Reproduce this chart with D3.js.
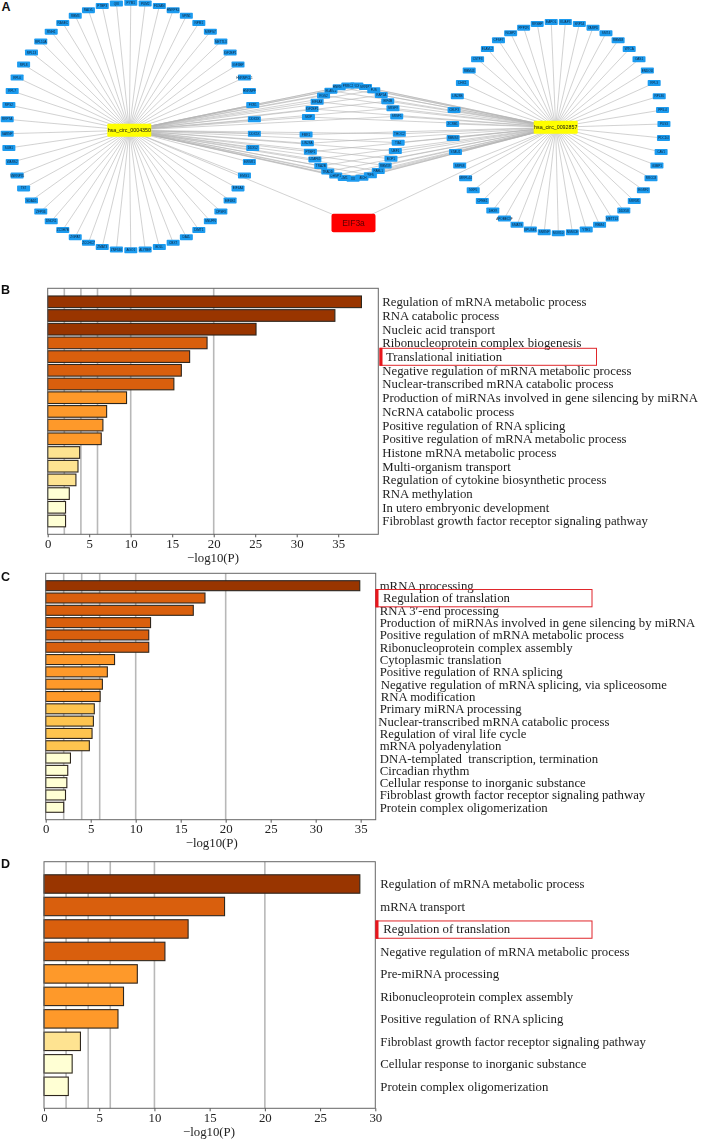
<!DOCTYPE html>
<html><head><meta charset="utf-8">
<script src="https://cdnjs.cloudflare.com/ajax/libs/d3/7.8.5/d3.min.js"></script>
<style>html,body{margin:0;padding:0;background:#fff}svg{display:block}</style>
</head><body><div id="c"></div>
<script>
// ---- Network data (panel A), clockwise
const hubLeftName = "hsa_circ_0004350";
const hubRightName = "hsa_circ_0092857";
const proteinName = "EIF3a";
const leftRing = ["PYM1","PUM2","FDXAN","HNRPKL","SPIN1","NPM1","MRPS7","METTL3","IGF2BP1","IGF3BP","HNRNPCL1","HNRNPF","FXR1","DDX3X","DDX5X","DDX52","EWSR1","EMG1","EIF4A4","EIF4E2","CPSF3","SNUPN","DIMT1","DAZL","CBX7","BOLL","ALYREF","AGO1","ZNF346","ZMAT3","ZCCHC7","ZGPAT","ZC3H7B","DNCR1","ZFP36","SDAD1","TST","SNRNP35","WARS2","SUB1","SARNP","RRP7A","RPS2","RPL7","RPL6","RPL8","RPL13","RPL10A","RNH1","RASEC","RBM3","RALYL","PTBP3","QKI"];
const rightRing = ["EAPOL","KUAP3","SRP54","YARPD","SMT4","RBM48","WTCA","OAS1","ENDOU","RPL3","RPL36","PPIL4","PUS3","PDCD4","CAV1","G3BP1","RRCC8","EGRF2","SRRM1","DDX58","METTL3","RBM4","YTE1","NSMCE","MOV10","SNRNP","KPUSE1","SMATS","APOBEC3F","DHX9","CPEB1","NXF5","MRPL44","SRP68","STAU1","RBMS3","ZCRB1","CELF3","LIN28B","DHX1","RBM43","CSTF3","ELAVL2","CFSF7","NCBP2","PPP2R","RRSBP"];
const sharedRing = ["LRCH1","SRRM2","FUS","RAP1A","EIF4B","SRSF9","SRSF1","","THOC2","TIA1","UBF1","BOP1","RBM39","PABL1","WFS","PAICH","XX","LIM1","DHSP1","TRADD","TRA2B","U2AF65","PTBP1","LIN28A","FMR1","","SKIP","IGF2BP1","EIF4A3","RGS2","ELAVL1","HNRNPK","PRRC2"];

// ---- Enrichment data
const catsB = ["Regulation of mRNA metabolic process","RNA catabolic process","Nucleic acid transport","Ribonucleoprotein complex biogenesis","Translational initiation","Negative regulation of mRNA metabolic process","Nuclear-transcribed mRNA catabolic process","Production of miRNAs involved in gene silencing by miRNA","NcRNA catabolic process","Positive regulation of RNA splicing","Positive regulation of mRNA metabolic process","Histone mRNA metabolic process","Multi-organism transport","Regulation of cytokine biosynthetic process","RNA methylation","In utero embryonic development","Fibroblast growth factor receptor signaling pathway"];
const valsB = [37.8,34.6,25.1,19.2,17.1,16.1,15.2,9.5,7.1,6.65,6.45,3.85,3.65,3.4,2.6,2.15,2.15];
const catsC = ["mRNA processing","Regulation of translation","RNA 3′-end processing","Production of miRNAs involved in gene silencing by miRNA","Positive regulation of mRNA metabolic process","Ribonucleoprotein complex assembly","Cytoplasmic translation","Positive regulation of RNA splicing","Negative regulation of mRNA splicing, via spliceosome","RNA modification","Primary miRNA processing","Nuclear-transcribed mRNA catabolic process","Regulation of viral life cycle","mRNA polyadenylation","DNA-templated  transcription, termination","Circadian rhythm","Cellular response to inorganic substance","Fibroblast growth factor receptor signaling pathway","Protein complex oligomerization"];
const valsC = [34.9,17.7,16.4,11.65,11.45,11.45,7.65,6.85,6.3,6.05,5.4,5.3,5.15,4.85,2.75,2.45,2.35,2.2,2.0];
const catsD = ["Regulation of mRNA metabolic process","mRNA transport","Regulation of translation","Negative regulation of mRNA metabolic process","Pre-miRNA processing","Ribonucleoprotein complex assembly","Positive regulation of RNA splicing","Fibroblast growth factor receptor signaling pathway","Cellular response to inorganic substance","Protein complex oligomerization"];
const valsD = [28.6,16.35,13.05,10.95,8.45,7.2,6.7,3.3,2.55,2.2];
const gridValues = [2,4,6,10,20];
const colorBreaks = [3,4,6,10,20];
const colorRange = ["#FFFFD4","#FEE391","#FEC44F","#FE9929","#D95F0E","#993404"];

const W=709,H=1139;
const svg=d3.select("#c").append("svg").attr("width",W).attr("height",H).attr("viewBox",`0 0 ${W} ${H}`);
const defs=svg.append("defs");
defs.append("filter").attr("id","b1").attr("x","-5%").attr("y","-5%").attr("width","110%").attr("height","110%")
  .append("feGaussianBlur").attr("stdDeviation",0.35);
defs.append("filter").attr("id","b2").attr("x","-5%").attr("y","-5%").attr("width","110%").attr("height","110%")
  .append("feGaussianBlur").attr("stdDeviation",0.25);

// ---- Panel A
const gA=svg.append("g").attr("filter","url(#b1)");
function ring(names,cx,cy,r,startDeg){
  const ang=d3.scaleLinear().domain([0,names.length]).range([startDeg,startDeg+360]);
  return names.map((n,i)=>{const a=ang(i)*Math.PI/180;return {name:n,x:cx+r*Math.sin(a),y:cy-r*Math.cos(a)};}).filter(d=>d.name);
}
const hubL={x:129.3,y:130.3,name:hubLeftName}, hubR={x:555.7,y:127.3,name:hubRightName}, prot={x:353.5,y:223,name:proteinName};
const nL=ring(leftRing,130.8,126.5,123.8,0);
const nR=ring(rightRing,558.3,127.5,105.7,-180/rightRing.length);
const nS=ring(sharedRing,352.7,132,46.7,5);
const edges=[...nL.map(d=>[hubL,d]),...nR.map(d=>[hubR,d]),...nS.map(d=>[hubL,d]),...nS.map(d=>[hubR,d]),[hubL,prot],[hubR,prot]];
gA.append("g").selectAll("line").data(edges).join("line")
  .attr("x1",d=>d[0].x).attr("y1",d=>d[0].y).attr("x2",d=>d[1].x).attr("y2",d=>d[1].y)
  .attr("stroke","#b4b4b4").attr("stroke-width",0.6);
const nodes=[...nL,...nR,...nS];
const gn=gA.append("g").selectAll("g").data(nodes).join("g").attr("transform",d=>`translate(${d.x},${d.y})`);
gn.append("rect").attr("x",-6.5).attr("y",-3).attr("width",13).attr("height",6).attr("rx",0.8).attr("fill","#1F9BEF");
gn.append("text").text(d=>d.name).attr("text-anchor","middle").attr("dy","0.35em")
  .attr("font-family","Liberation Sans").attr("font-size",3.1).attr("fill","#0b2238");
[hubL,hubR].forEach(h=>{
  const g=gA.append("g").attr("transform",`translate(${h.x},${h.y})`);
  g.append("rect").attr("x",-22).attr("y",-6.5).attr("width",44).attr("height",13).attr("rx",1).attr("fill","#FFFF00");
  g.append("text").text(h.name).attr("text-anchor","middle").attr("dy","0.35em")
   .attr("font-family","Liberation Sans").attr("font-size",5.3).attr("fill","#111");
});
{const g=gA.append("g").attr("transform",`translate(${prot.x},${prot.y})`);
 g.append("rect").attr("x",-22).attr("y",-9.2).attr("width",44).attr("height",18.4).attr("rx",2).attr("fill","#FF0000");
 g.append("text").text(prot.name).attr("text-anchor","middle").attr("dy","0.35em")
  .attr("font-family","Liberation Sans").attr("font-size",8.5).attr("fill","#5a0606");}

// ---- Bar panels
const color=d3.scaleThreshold().domain(colorBreaks).range(colorRange);
const serif="Liberation Serif";
function panel(o){
  const g=svg.append("g").attr("filter","url(#b2)");
  const x=d3.scaleLinear().domain([0,o.xMax]).range([o.left,o.right]);
  const y=d3.scaleBand().domain(o.cats).range([o.first-o.step/2,o.last+o.step/2]).paddingInner(o.pad).paddingOuter(o.pad/2);
  g.append("g").selectAll("line").data(gridValues).join("line")
    .attr("x1",d=>x(d)).attr("x2",d=>x(d)).attr("y1",o.top).attr("y2",o.bottom)
    .attr("stroke","#b8b8b8").attr("stroke-width",1.6);
  g.append("g").selectAll("rect").data(o.vals).join("rect")
    .attr("x",x(0)).attr("y",(d,i)=>y(o.cats[i])).attr("width",d=>x(d)-x(0)).attr("height",y.bandwidth())
    .attr("fill",d=>color(d)).attr("stroke","#2e261e").attr("stroke-width",1.1);
  g.append("rect").attr("x",o.left).attr("y",o.top).attr("width",o.right-o.left).attr("height",o.bottom-o.top)
    .attr("fill","none").attr("stroke","#666").attr("stroke-width",1);
  const ax=g.append("g").attr("transform",`translate(0,${o.bottom})`)
    .call(d3.axisBottom(x).tickValues(d3.range(0,o.xMax+0.001,5)).tickSize(3).tickPadding(1.5).tickFormat(d3.format("d")));
  ax.select(".domain").remove();
  ax.selectAll("line").attr("stroke","#555");
  ax.selectAll("text").attr("font-family",serif).attr("font-size",12.8).attr("fill","#222");
  g.append("text").text("\u2212log10(P)").attr("x",o.titleX).attr("y",o.titleY).attr("text-anchor","middle").attr("dy","0.35em")
    .attr("font-family",serif).attr("font-size",12.8).attr("fill","#222");
  g.append("g").selectAll("text").data(o.cats).join("text").text(d=>d)
    .attr("x",(d,i)=>o.labelX+(d===o.hl?o.hlIndent:0)+((o.nudge&&o.nudge[i])||0))
    .attr("y",d=>y(d)+y.bandwidth()/2).attr("dy","0.35em").style("white-space","pre")
    .attr("font-family",serif).attr("font-size",12.77).attr("fill","#1c1c1c");
  const yc=y(o.hl)+y.bandwidth()/2;
  g.append("rect").attr("x",o.boxX).attr("y",yc+o.boxDy).attr("width",o.boxW).attr("height",o.boxH)
    .attr("fill","none").attr("stroke","#e0262c").attr("stroke-width",1);
  g.append("rect").attr("x",o.boxX-0.5).attr("y",yc+o.boxDy-0.5).attr("width",3).attr("height",o.boxH+1).attr("fill","#e8141c");
  g.append("text").text(o.letter).attr("x",1).attr("y",o.letterY).attr("dy","0.35em")
    .attr("font-family","Liberation Sans").attr("font-weight","bold").attr("font-size",12.5).attr("fill","#111");
}
svg.append("text").text("A").attr("x",1.5).attr("y",6.8).attr("dy","0.35em")
  .attr("font-family","Liberation Sans").attr("font-weight","bold").attr("font-size",12.5).attr("fill","#111");

panel({letter:"B",letterY:290,cats:catsB,vals:valsB,xMax:39.83,left:47.7,right:378.3,top:288.3,bottom:534.3,first:301.8,last:521,step:13.7,pad:0.15,
  titleX:213,titleY:557.5,labelX:382.3,hl:"Translational initiation",hlIndent:3.6,boxX:380,boxDy:-8.3,boxW:216.5,boxH:17});
panel({letter:"C",letterY:576.7,cats:catsC,vals:valsC,xMax:36.67,left:45.7,right:375.7,top:573.3,bottom:819.7,first:585.7,last:807.3,step:12.31,pad:0.19,
  titleX:211.7,titleY:842.6,labelX:379.7,hl:"Regulation of translation",hlIndent:3.3,nudge:{8:1,9:1,11:-1.5},boxX:376,boxDy:-8.5,boxW:216,boxH:17.3});
panel({letter:"D",letterY:864,cats:catsD,vals:valsD,xMax:30,left:44,right:375.3,top:861.7,bottom:1108.3,first:884,last:1086.3,step:22.48,pad:0.18,
  titleX:209,titleY:1131.7,labelX:380.3,hl:"Regulation of translation",hlIndent:3,boxX:376,boxDy:-8,boxW:216,boxH:17.3});
</script></body></html>
